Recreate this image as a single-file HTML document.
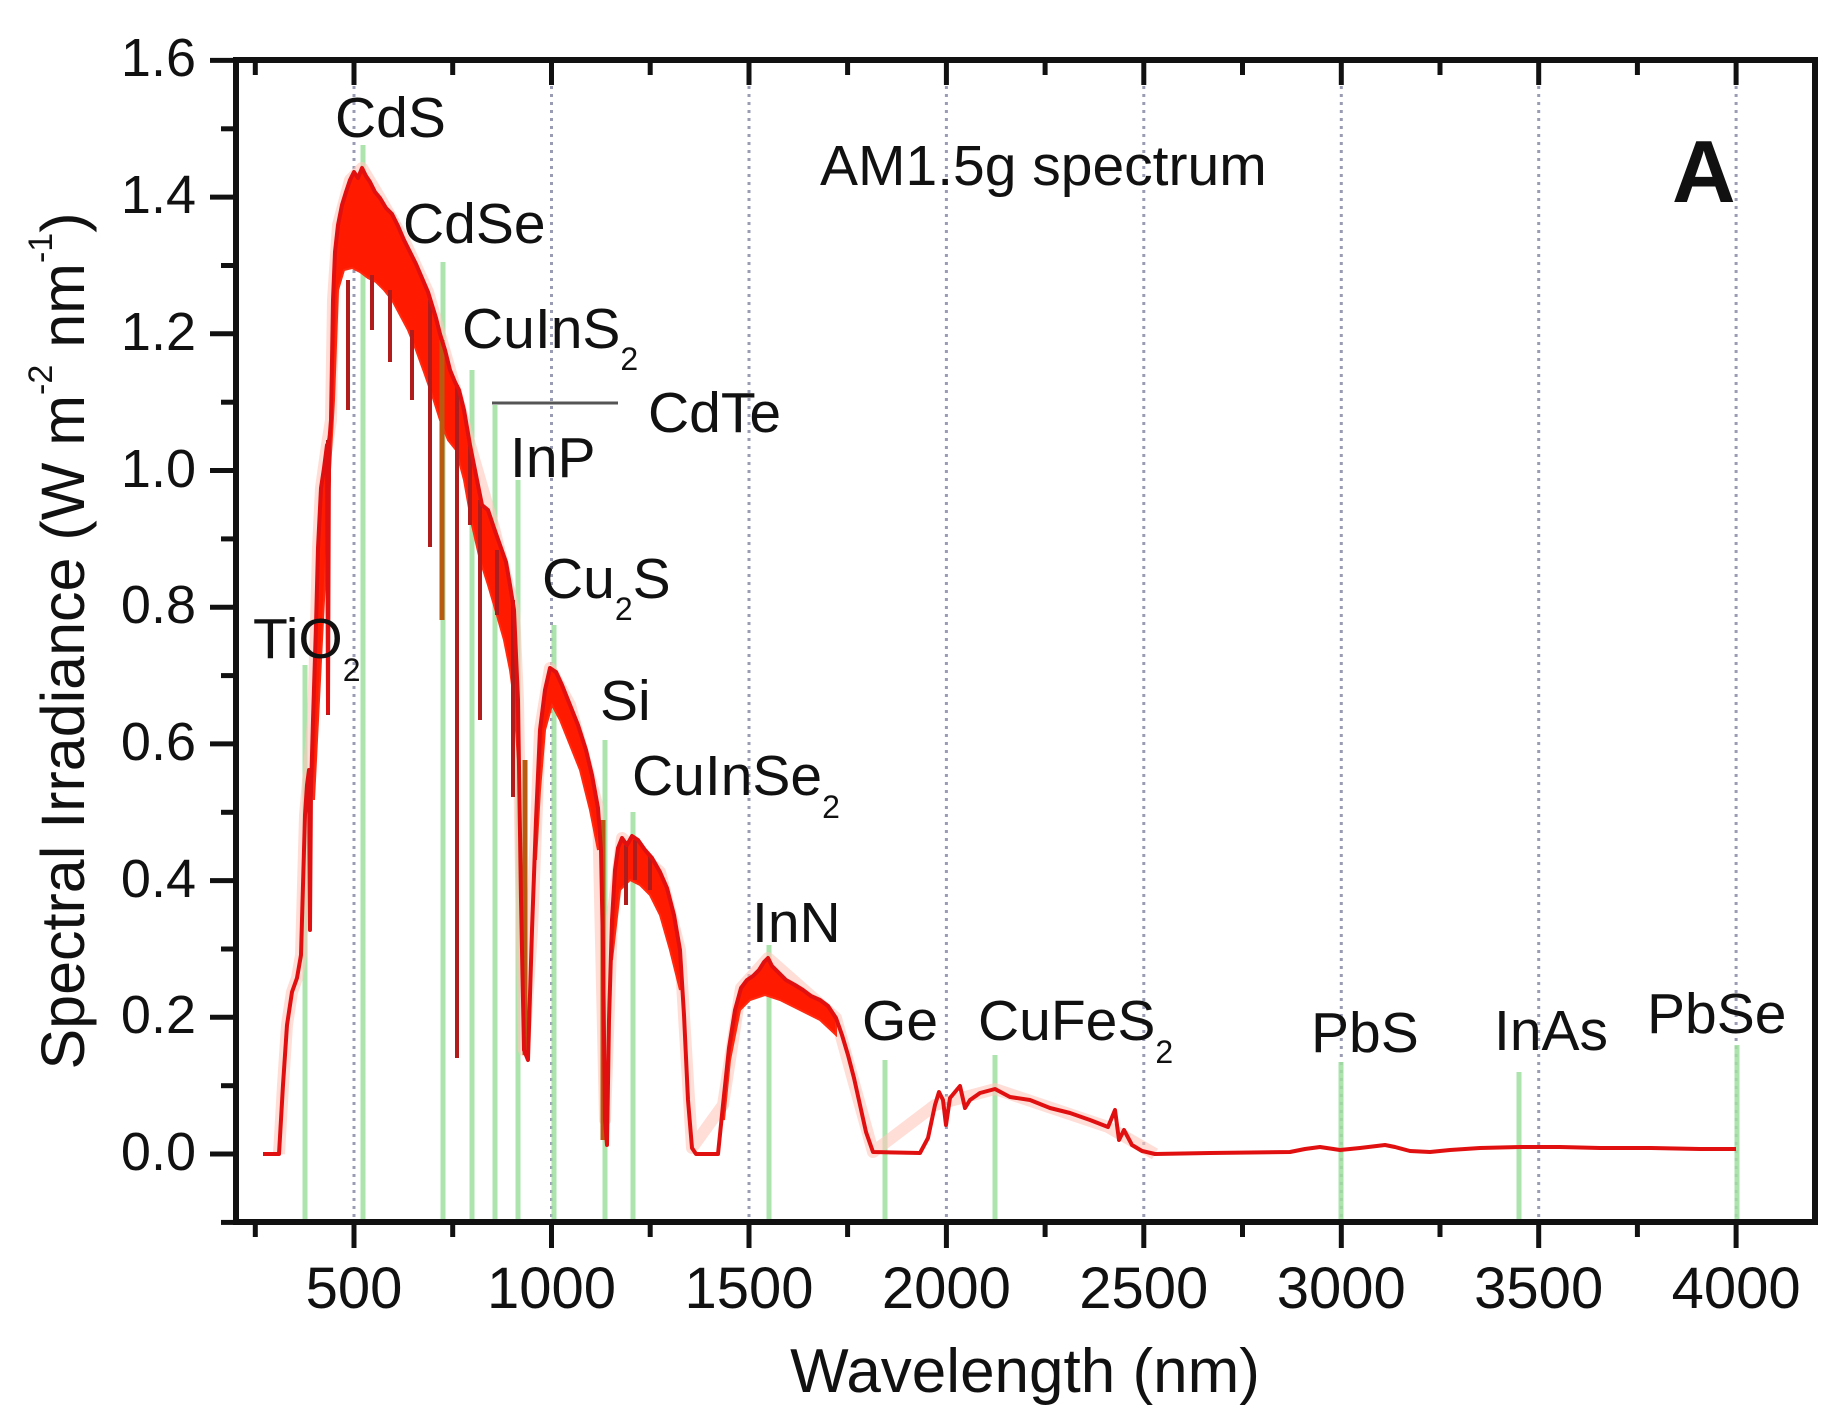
<!DOCTYPE html>
<html>
<head>
<meta charset="utf-8">
<style>
html,body{margin:0;padding:0;background:#fff;}
svg{display:block;}
text{font-family:"Liberation Sans",Arial,sans-serif;fill:#111;}
</style>
</head>
<body>
<svg width="1844" height="1424" viewBox="0 0 1844 1424" xmlns="http://www.w3.org/2000/svg">
<rect x="0" y="0" width="1844" height="1424" fill="#fff"/>

<!-- dotted gridlines -->
<g stroke="#9a9cb4" stroke-width="3" stroke-dasharray="3,5">
<line x1="354" y1="62" x2="354" y2="1220"/>
<line x1="551.5" y1="62" x2="551.5" y2="1220"/>
<line x1="749" y1="62" x2="749" y2="1220"/>
<line x1="946.4" y1="62" x2="946.4" y2="1220"/>
<line x1="1143.8" y1="62" x2="1143.8" y2="1220"/>
<line x1="1341.3" y1="62" x2="1341.3" y2="1220"/>
<line x1="1538.7" y1="62" x2="1538.7" y2="1220"/>
<line x1="1736.1" y1="62" x2="1736.1" y2="1220"/>
</g>

<!-- green band-gap lines -->
<g stroke="#9fe09f" stroke-width="5" opacity="0.85">
<line x1="305" y1="665" x2="305" y2="1220"/>
<line x1="363" y1="145" x2="363" y2="1220"/>
<line x1="443" y1="262" x2="443" y2="1220"/>
<line x1="472" y1="370" x2="472" y2="1220"/>
<line x1="495" y1="405" x2="495" y2="1220"/>
<line x1="518" y1="480" x2="518" y2="1220"/>
<line x1="554" y1="625" x2="554" y2="1220"/>
<line x1="605" y1="740" x2="605" y2="1220"/>
<line x1="633" y1="812" x2="633" y2="1220"/>
<line x1="769" y1="945" x2="769" y2="1220"/>
<line x1="885" y1="1060" x2="885" y2="1220"/>
<line x1="995" y1="1055" x2="995" y2="1220"/>
<line x1="1341" y1="1062" x2="1341" y2="1220"/>
<line x1="1519" y1="1072" x2="1519" y2="1220"/>
<line x1="1737" y1="1045" x2="1737" y2="1220"/>
</g>

<!-- soft halo (jpeg blur imitation) -->
<g fill="none" stroke="#ffc8bc" stroke-width="12" stroke-linejoin="round" opacity="0.6">
<path d="M279,1154 L283,1085 L287,1025 L292,992 L297,978 L301,955 L303,885 L305,815 L309,770 L313,720 L316,625 L318,548 L321,488 L327,445 L331,420 L333,300 L338,225 L350,180 L362,168 L380,198 L404,240 L428,292 L450,370 L470,445 L494,528 L514,610 L518,700 L524,1050 L532,930 L540,730 L550,668 L570,705 L598,808 L605,1120 L612,920 L622,838 L660,872 L680,950 L692,1148 L723,1105 L741,988 L768,958 L836,1018 L873,1152 L935,1105 L995,1089 L1108,1127 L1155,1154"/>
</g>

<!-- spectrum noise bands -->
<g fill="#ff1a00" stroke="#ff2a10" stroke-width="2">
<polygon points="330,430 333,300 335,252 338,225 342,205 346,192 350,180 354,172 358,178 362,168 366,176 370,182 375,192 380,198 386,208 392,214 398,226 404,240 410,252 416,264 422,278 428,292 432,305 436,318 440,334 445,350 450,370 455,382 459,390 464,410 470,445 476,475 482,505 488,510 494,528 500,545 506,562 510,585 514,610 518,700 518,760 514,700 510,670 504,640 496,612 488,585 480,560 472,525 464,480 456,450 448,440 440,420 432,395 424,372 416,350 408,330 400,315 392,300 384,290 376,282 368,278 360,272 352,268 344,270 338,290 334,400 330,470"/>
<polygon points="536,820 540,730 545,690 550,668 556,672 562,685 570,705 578,725 586,750 592,775 598,808 598,850 590,810 580,770 570,745 560,720 552,705 545,730 540,790 536,860"/>
<polygon points="612,920 615,870 618,848 622,838 627,845 632,836 638,840 645,850 652,858 660,872 667,888 674,915 680,950 680,990 670,950 660,915 650,895 640,885 630,880 620,890 612,960"/>
<polygon points="723,1105 729,1048 735,1010 741,988 747,980 753,976 759,970 764,962 768,958 772,966 778,972 786,980 795,985 803,990 811,996 820,1000 828,1006 836,1018 836,1035 820,1020 800,1010 780,1000 765,995 750,1000 740,1010 730,1060 724,1120"/>
<polygon points="312,760 316,625 318,548 321,488 324,468 327,445 330,430 330,480 326,560 322,640 318,720 314,800"/>
</g>

<!-- dip lines -->
<g stroke="#b01c1c" stroke-width="4" fill="none">
<line x1="348" y1="280" x2="348" y2="410"/>
<line x1="372" y1="275" x2="372" y2="330"/>
<line x1="390" y1="290" x2="390" y2="362"/>
<line x1="412" y1="330" x2="412" y2="400"/>
<line x1="430" y1="300" x2="430" y2="547"/>
<line x1="457" y1="385" x2="457" y2="1058"/>
<line x1="470" y1="445" x2="470" y2="525"/>
<line x1="480" y1="500" x2="480" y2="720"/>
<line x1="497" y1="550" x2="497" y2="615"/>
<line x1="513" y1="600" x2="513" y2="797"/>
<line x1="626" y1="845" x2="626" y2="905"/>
<line x1="635" y1="840" x2="635" y2="880"/>
<line x1="650" y1="855" x2="650" y2="890"/>
<line x1="328" y1="440" x2="328" y2="715"/>
</g>
<g stroke="#b85a10" stroke-width="5">
<line x1="442" y1="340" x2="442" y2="620"/>
<line x1="603" y1="820" x2="603" y2="1140"/>
<line x1="525" y1="760" x2="525" y2="1055"/>
</g>

<!-- main spectrum line -->
<path fill="none" stroke="#e01010" stroke-width="4" stroke-linejoin="round" d="M263,1154 L279,1154 L283,1085 L287,1025 L292,992 L297,978 L301,955 L303,885 L305,815 L307,785 L309,770 L310,930 L311,790 L313,720 L316,625 L318,548 L321,488 L324,468 L327,445 L328,712 L329,445 L331,420 L333,300 L335,252 L338,225 L342,205 L346,192 L350,180 L354,172 L358,178 L362,168 L366,176 L370,182 L375,192 L380,198 L386,208 L392,214 L398,226 L404,240 L410,252 L416,264 L422,278 L428,292 L432,305 L436,318 L440,334 L445,350 L450,370 L455,382 L459,390 L464,410 L470,445 L476,475 L482,505 L488,510 L494,528 L500,545 L506,562 L510,585 L514,610 L518,700 L521,900 L524,1050 L528,1060 L532,930 L536,820 L540,730 L545,690 L550,668 L556,672 L562,685 L570,705 L578,725 L586,750 L592,775 L598,808 L601,850 L603,950 L605,1120 L607,1145 L609,1020 L612,920 L615,870 L618,848 L622,838 L627,845 L632,836 L638,840 L645,850 L652,858 L660,872 L667,888 L674,915 L680,950 L684,1015 L688,1100 L692,1148 L696,1154 L718,1154 L723,1105 L729,1048 L735,1010 L741,988 L747,980 L753,976 L759,970 L764,962 L768,958 L772,966 L778,972 L786,980 L795,985 L803,990 L811,996 L820,1000 L828,1006 L836,1018 L842,1035 L848,1055 L854,1078 L860,1105 L866,1132 L873,1152 L920,1153 L928,1138 L935,1105 L939,1092 L943,1100 L946,1125 L950,1098 L955,1092 L960,1086 L965,1108 L970,1100 L980,1093 L995,1089 L1010,1097 L1030,1100 L1050,1108 L1070,1113 L1090,1120 L1108,1127 L1115,1110 L1119,1140 L1124,1130 L1132,1145 L1142,1151 L1155,1154 L1210,1153 L1290,1152 L1305,1149 L1320,1147 L1340,1150 L1360,1148 L1385,1145 L1395,1147 L1410,1151 L1430,1152 L1450,1150 L1480,1148 L1520,1147 L1560,1147 L1600,1148 L1650,1148 L1700,1149 L1736,1149"/>

<!-- CdTe pointer line -->
<line x1="492" y1="403" x2="618" y2="403" stroke="#555" stroke-width="3"/>

<!-- axes frame -->
<g stroke="#111" stroke-width="6" fill="none" stroke-linecap="square">
<line x1="236" y1="60" x2="1815" y2="60"/>
<line x1="236" y1="1222" x2="1815" y2="1222"/>
<line x1="236" y1="60" x2="236" y2="1222"/>
<line x1="1815" y1="60" x2="1815" y2="1222"/>
</g>

<!-- y ticks (outward, left) -->
<g stroke="#111" stroke-width="5">
<line x1="210" y1="1154" x2="236" y2="1154"/>
<line x1="210" y1="1017.3" x2="236" y2="1017.3"/>
<line x1="210" y1="880.6" x2="236" y2="880.6"/>
<line x1="210" y1="743.9" x2="236" y2="743.9"/>
<line x1="210" y1="607.2" x2="236" y2="607.2"/>
<line x1="210" y1="470.5" x2="236" y2="470.5"/>
<line x1="210" y1="333.8" x2="236" y2="333.8"/>
<line x1="210" y1="197.1" x2="236" y2="197.1"/>
<line x1="210" y1="60.4" x2="236" y2="60.4"/>
<line x1="221" y1="1222.4" x2="236" y2="1222.4"/>
<line x1="221" y1="1085.7" x2="236" y2="1085.7"/>
<line x1="221" y1="949" x2="236" y2="949"/>
<line x1="221" y1="812.3" x2="236" y2="812.3"/>
<line x1="221" y1="675.6" x2="236" y2="675.6"/>
<line x1="221" y1="538.9" x2="236" y2="538.9"/>
<line x1="221" y1="402.2" x2="236" y2="402.2"/>
<line x1="221" y1="265.5" x2="236" y2="265.5"/>
<line x1="221" y1="128.8" x2="236" y2="128.8"/>
</g>

<!-- x ticks bottom (outward) and top (inward) -->
<g stroke="#111" stroke-width="5">
<line x1="354" y1="1222" x2="354" y2="1248"/>
<line x1="551.5" y1="1222" x2="551.5" y2="1248"/>
<line x1="749" y1="1222" x2="749" y2="1248"/>
<line x1="946.4" y1="1222" x2="946.4" y2="1248"/>
<line x1="1143.8" y1="1222" x2="1143.8" y2="1248"/>
<line x1="1341.3" y1="1222" x2="1341.3" y2="1248"/>
<line x1="1538.7" y1="1222" x2="1538.7" y2="1248"/>
<line x1="1736.1" y1="1222" x2="1736.1" y2="1248"/>
<line x1="255.3" y1="1222" x2="255.3" y2="1237"/>
<line x1="452.7" y1="1222" x2="452.7" y2="1237"/>
<line x1="650.2" y1="1222" x2="650.2" y2="1237"/>
<line x1="847.6" y1="1222" x2="847.6" y2="1237"/>
<line x1="1045.1" y1="1222" x2="1045.1" y2="1237"/>
<line x1="1242.5" y1="1222" x2="1242.5" y2="1237"/>
<line x1="1440" y1="1222" x2="1440" y2="1237"/>
<line x1="1637.4" y1="1222" x2="1637.4" y2="1237"/>

<line x1="354" y1="60" x2="354" y2="85"/>
<line x1="551.5" y1="60" x2="551.5" y2="85"/>
<line x1="749" y1="60" x2="749" y2="85"/>
<line x1="946.4" y1="60" x2="946.4" y2="85"/>
<line x1="1143.8" y1="60" x2="1143.8" y2="85"/>
<line x1="1341.3" y1="60" x2="1341.3" y2="85"/>
<line x1="1538.7" y1="60" x2="1538.7" y2="85"/>
<line x1="1736.1" y1="60" x2="1736.1" y2="85"/>
<line x1="255.3" y1="60" x2="255.3" y2="75"/>
<line x1="452.7" y1="60" x2="452.7" y2="75"/>
<line x1="650.2" y1="60" x2="650.2" y2="75"/>
<line x1="847.6" y1="60" x2="847.6" y2="75"/>
<line x1="1045.1" y1="60" x2="1045.1" y2="75"/>
<line x1="1242.5" y1="60" x2="1242.5" y2="75"/>
<line x1="1440" y1="60" x2="1440" y2="75"/>
<line x1="1637.4" y1="60" x2="1637.4" y2="75"/>
</g>

<!-- y tick labels -->
<g font-size="54" text-anchor="end">
<text x="196" y="1170">0.0</text>
<text x="196" y="1033">0.2</text>
<text x="196" y="897">0.4</text>
<text x="196" y="760">0.6</text>
<text x="196" y="623">0.8</text>
<text x="196" y="487">1.0</text>
<text x="196" y="350">1.2</text>
<text x="196" y="213">1.4</text>
<text x="196" y="76">1.6</text>
</g>

<!-- x tick labels -->
<g font-size="58" text-anchor="middle">
<text x="354" y="1308">500</text>
<text x="551.5" y="1308">1000</text>
<text x="749" y="1308">1500</text>
<text x="946.4" y="1308">2000</text>
<text x="1143.8" y="1308">2500</text>
<text x="1341.3" y="1308">3000</text>
<text x="1538.7" y="1308">3500</text>
<text x="1736.1" y="1308">4000</text>
</g>

<!-- axis titles -->
<text x="1025" y="1392" font-size="62" text-anchor="middle">Wavelength (nm)</text>
<text transform="translate(84,641) rotate(-90)" font-size="61" text-anchor="middle">Spectral Irradiance (W m<tspan font-size="34" dy="-32">-2</tspan><tspan dy="32"> nm</tspan><tspan font-size="34" dy="-32">-1</tspan><tspan dy="32">)</tspan></text>

<!-- annotations -->
<g font-size="57">
<text x="820" y="185">AM1.5g spectrum</text>
<text x="335" y="137">CdS</text>
<text x="403" y="243">CdSe</text>
<text x="462" y="348">CuInS<tspan font-size="32" dy="22">2</tspan></text>
<text x="648" y="432">CdTe</text>
<text x="510" y="477">InP</text>
<text x="542" y="598">Cu<tspan font-size="32" dy="22">2</tspan><tspan dy="-22">S</tspan></text>
<text x="253" y="658">TiO<tspan font-size="32" dy="23">2</tspan></text>
<text x="600" y="720">Si</text>
<text x="632" y="795">CuInSe<tspan font-size="32" dy="23">2</tspan></text>
<text x="752" y="942">InN</text>
<text x="862" y="1040">Ge</text>
<text x="978" y="1040">CuFeS<tspan font-size="32" dy="23">2</tspan></text>
<text x="1311" y="1052">PbS</text>
<text x="1494" y="1050">InAs</text>
<text x="1647" y="1033">PbSe</text>
</g>
<text x="1672" y="202" font-size="88" font-weight="bold">A</text>
</svg>
</body>
</html>
